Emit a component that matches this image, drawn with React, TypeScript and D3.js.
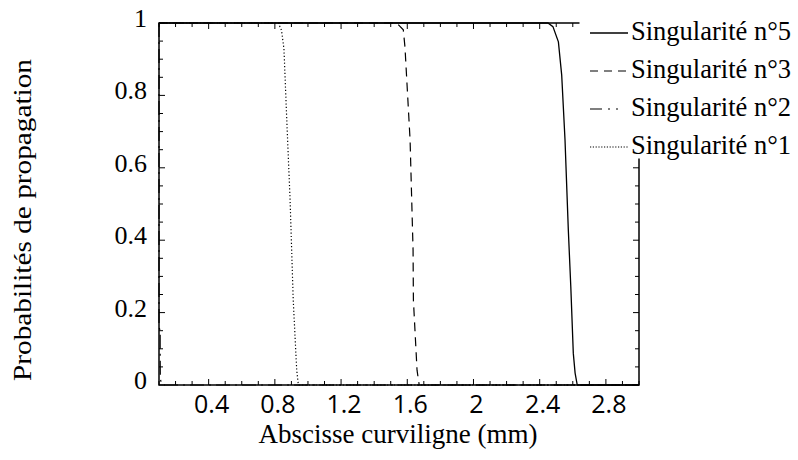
import React from "react";
import * as d3 from "d3";

const xMajorTicks = [0.4, 0.8, 1.2, 1.6, 2.0, 2.4, 2.8];
const xTickLabels = ["0.4", "0.8", "1.2", "1.6", "2", "2.4", "2.8"];
const yMajorTicks = [0, 0.2, 0.4, 0.6, 0.8, 1];
const yTickLabels = ["0", "0.2", "0.4", "0.6", "0.8", "1"];

const seriesNames = ["Singularité n°5", "Singularité n°3", "Singularité n°2", "Singularité n°1"];

const s5x = [0.1, 2.45, 2.48, 2.513, 2.533, 2.553, 2.573, 2.588, 2.603, 2.614, 2.627, 3.0];
const s5y = [1, 1, 0.99, 0.948, 0.856, 0.677, 0.428, 0.271, 0.088, 0.033, 0, 0];

const s3x = [0.1, 1.536, 1.576, 1.586, 1.617, 1.635, 1.637, 1.659, 1.672, 3.0];
const s3y = [1, 1, 0.981, 0.934, 0.677, 0.373, 0.235, 0.041, 0, 0];

const s2x = [0.1, 0.1, 0.107, 0.107, 0.108, 0.113, 0.126, 3.0];
const s2y = [1, 0.16, 0.15, 0.08, 0.02, 0.005, 0, 0];

const s1x = [0.1, 0.821, 0.84, 0.855, 0.872, 0.892, 0.911, 0.932, 0.942, 3.0];
const s1y = [1, 1, 0.98, 0.928, 0.732, 0.511, 0.235, 0.041, 0, 0];

const seriesX = [s5x, s3x, s2x, s1x];
const seriesY = [s5y, s3y, s2y, s1y];
const seriesDash = ["none", "9,6", "14,5,2,5", "1.2,2.2"];
const seriesWidth = [1.3, 1.2, 1.2, 1.2];
const legendDash = ["none", "8,6", "12,6,2,6,2,10", "1.2,1.6"];

const W = 798, H = 460;
const L = 159, R = 639, T = 23, B = 385;

export default function App() {
  const x = d3.scaleLinear().domain([0.1, 3.0]).range([L, R]);
  const y = d3.scaleLinear().domain([0, 1]).range([B, T]);
  const line = d3.line<[number, number]>().x(d => x(d[0])).y(d => y(d[1]));

  const xMinor = d3.range(1, 31).map(i => i / 10);
  const yMinor = d3.range(0, 21).map(i => i / 20);
  const isMajorX = (v: number) => xMajorTicks.some(m => Math.abs(m - v) < 1e-6);
  const isMajorY = (v: number) => yMajorTicks.some(m => Math.abs(m - v) < 1e-6);
  const serif = "'Liberation Serif', 'Times New Roman', serif";
  const sans = "'Open Sans', 'Noto Sans', sans-serif";

  return (
    <svg width={W} height={H} style={{ position: "absolute", left: 0, top: 0, background: "#fff" }}>
      <rect x={0} y={0} width={W} height={H} fill="#fff" />
      {seriesX.map((xs, i) => (
        <path
          key={i}
          d={line(xs.map((v, j) => [v, seriesY[i][j]]) as [number, number][]) || ""}
          fill="none"
          stroke="#000"
          strokeWidth={seriesWidth[i]}
          strokeDasharray={seriesDash[i]}
        />
      ))}
      <rect x={L} y={T} width={R - L} height={B - T} fill="none" stroke="#000" strokeWidth={1.5} />
      {xMinor.map((v, i) => {
        const len = isMajorX(v) ? 6 : 4;
        return (
          <g key={"xt" + i}>
            <line x1={x(v)} x2={x(v)} y1={B} y2={B - len} stroke="#000" strokeWidth={1} />
            <line x1={x(v)} x2={x(v)} y1={T} y2={T + len} stroke="#000" strokeWidth={1} />
          </g>
        );
      })}
      {yMinor.map((v, i) => {
        const len = isMajorY(v) ? 6 : 4;
        return (
          <g key={"yt" + i}>
            <line x1={L} x2={L + len} y1={y(v)} y2={y(v)} stroke="#000" strokeWidth={1} />
            <line x1={R} x2={R - len} y1={y(v)} y2={y(v)} stroke="#000" strokeWidth={1} />
          </g>
        );
      })}
      <rect x={579.5} y={0} width={W - 579.5} height={158.5} fill="#fff" />
      {xMajorTicks.map((v, i) => (
        <text key={"xl" + i} x={x(v) + 3} y={413} textAnchor="middle" fontFamily={sans} fontSize={25} fill="#000">
          {xTickLabels[i]}
        </text>
      ))}
      {yMajorTicks.map((v, i) => (
        <text key={"yl" + i} x={147} y={y(v) + 4} textAnchor="end" fontFamily={serif} fontSize={26} fill="#000">
          {yTickLabels[i]}
        </text>
      ))}
      <text x={398} y={443} textAnchor="middle" fontFamily={serif} fontSize={27} fill="#000">
        Abscisse curviligne (mm)
      </text>
      <text
        transform={`translate(31, 220) rotate(-90)`}
        textAnchor="middle"
        fontFamily={serif}
        fontSize={26}
        textLength={322}
        lengthAdjust="spacingAndGlyphs"
        fill="#000"
      >
        Probabilités de propagation
      </text>
      {seriesNames.map((name, i) => {
        const ly = 33 + i * 38;
        return (
          <g key={"lg" + i}>
            <line x1={590} x2={628} y1={ly} y2={ly} stroke="#000" strokeWidth={seriesWidth[i]} strokeDasharray={legendDash[i]} />
            <text x={631} y={ly + 7} fontFamily={serif} fontSize={26.5} fill="#000">
              {name}
            </text>
          </g>
        );
      })}
    </svg>
  );
}
